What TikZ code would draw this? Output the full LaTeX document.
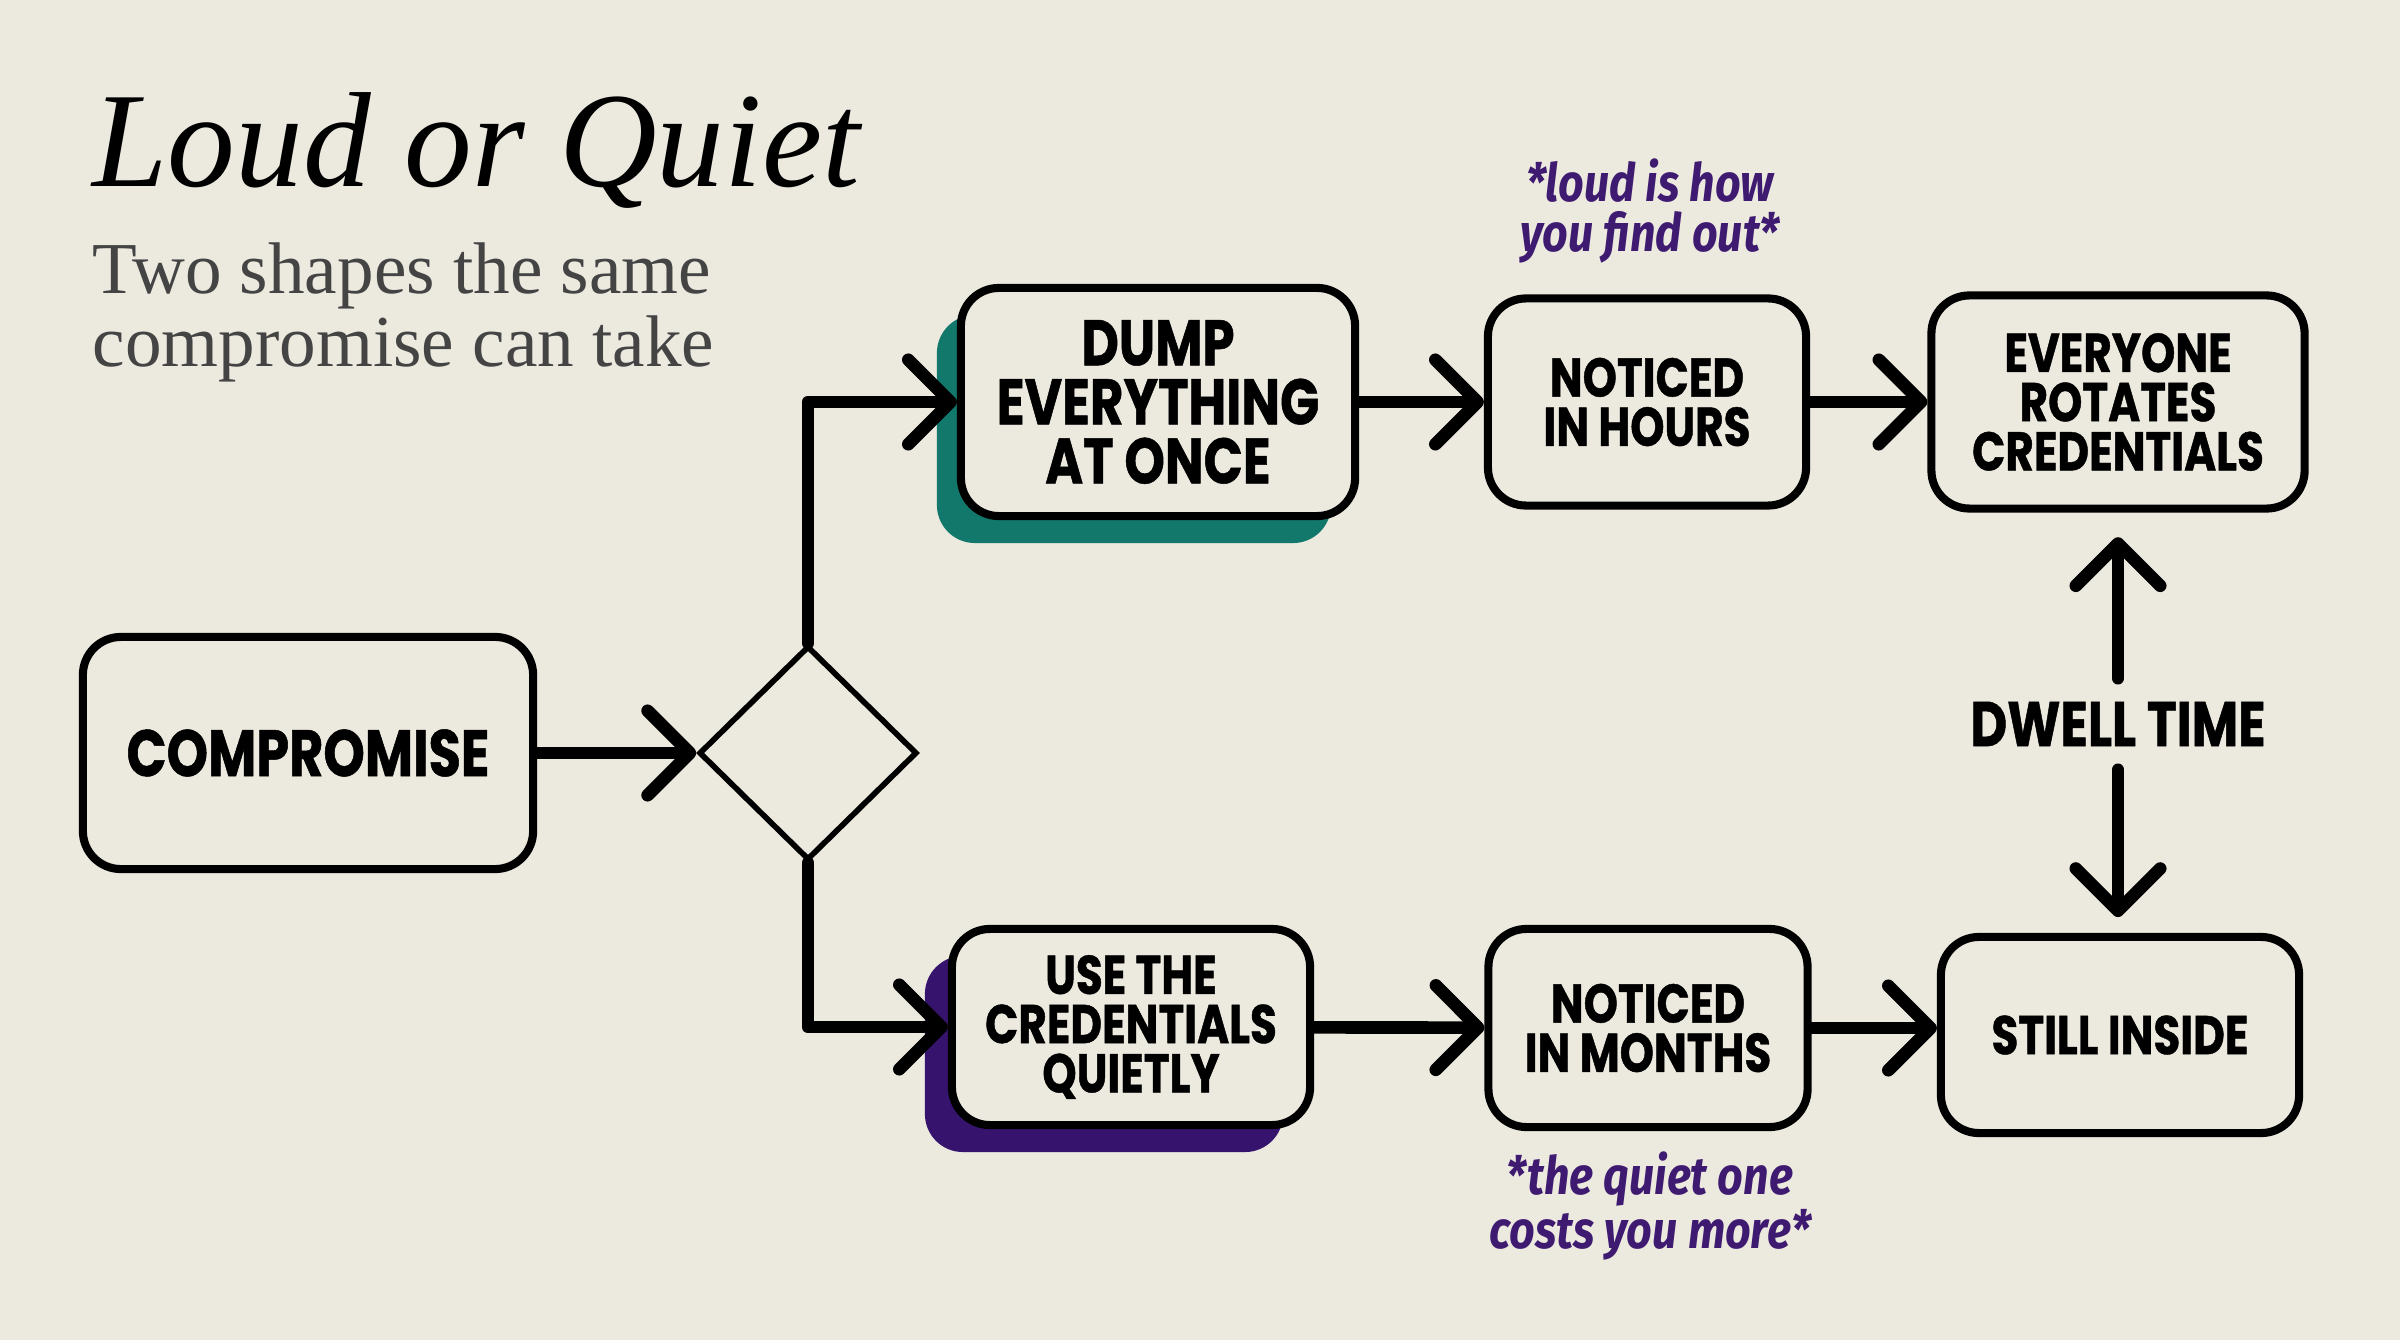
\documentclass[tikz,border=0pt]{standalone}
\usepackage{fontspec}
\usetikzlibrary{arrows.meta,shapes.geometric}
\newfontfamily\boxfont{Poppins}[FakeStretch=0.8,FakeBold=0.8]
\newfontfamily\notefont{Fira Sans}[FakeStretch=0.85]
\newfontfamily\titlefont{Liberation Serif}
\definecolor{bgcol}{HTML}{ECE9DF}
\definecolor{tealsh}{HTML}{13786C}
\definecolor{purplesh}{HTML}{36146E}
\definecolor{notecol}{HTML}{3E1A70}
\definecolor{subgray}{HTML}{444444}
\begin{document}
\begin{tikzpicture}[x=0.01cm,y=-0.01cm,
  box/.style={draw=black, line width=2.3pt, rounded corners=0.38cm, fill=bgcol,
    align=center, inner sep=0pt, font=\boxfont\bfseries\fontsize{15.5}{14}\selectfont},
  bigtext/.style={font=\boxfont\bfseries\fontsize{18.3}{16.8}\selectfont},
  shadowbox/.style={rounded corners=0.38cm, inner sep=0pt},
  arr/.style={line width=3.6pt, line cap=round, line join=round,
    -{Straight Barb[length=12pt,width=24pt,round]}},
  note/.style={text=notecol, align=center, inner sep=0pt,
    font=\notefont\bfseries\itshape\fontsize{15}{14}\selectfont},
  subtitle/.style={anchor=base west, inner sep=0pt, text=subgray,
    font=\titlefont\fontsize{20.8}{21}\selectfont},
]
\fill[bgcol] (0,0) rectangle (2400,1340);
\useasboundingbox (0,0) rectangle (2400,1340);

\node[anchor=base west, inner sep=0pt, font=\titlefont\itshape\fontsize{38.5}{40}\selectfont] (title) at (92,187) {Loud or Quiet};
\node[subtitle] (sub1) at (92,294) {Two shapes the same};
\node[subtitle] (sub2) at (92,367) {compromise can take};

% shadows
\node[shadowbox, fill=tealsh, minimum width=3.94cm, minimum height=2.28cm] (dumpsh) at (1134,429) {};
\node[shadowbox, fill=purplesh, minimum width=3.58cm, minimum height=1.96cm] (usesh) at (1104,1054) {};

\node[box, font=\boxfont\bfseries\fontsize{18.7}{17}\selectfont, minimum width=4.5cm, minimum height=2.32cm] (comp) at (308,753) {COMPROMISE};
\node[draw, diamond, line width=1.6pt, minimum width=2.18cm, minimum height=2.14cm, inner sep=0pt] (dia) at (808,753) {};

\node[box, bigtext, minimum width=3.94cm, minimum height=2.28cm] (dump) at (1158,402) {DUMP\\EVERYTHING\\AT ONCE};
\node[box, minimum width=3.18cm, minimum height=2.07cm] (hours) at (1647,402) {NOTICED\\IN HOURS};
\node[box, minimum width=3.73cm, minimum height=2.13cm] (rot) at (2118,402) {EVERYONE\\ROTATES\\CREDENTIALS};

\node[box, minimum width=3.58cm, minimum height=1.96cm] (use) at (1131,1027) {USE THE\\CREDENTIALS\\QUIETLY};
\node[box, minimum width=3.19cm, minimum height=1.98cm] (months) at (1648,1028) {NOTICED\\IN MONTHS};
\node[box, minimum width=3.58cm, minimum height=1.96cm] (still) at (2120,1035) {STILL INSIDE};

\node[inner sep=0pt, font=\boxfont\bfseries\fontsize{18}{18}\selectfont] (dwell) at (2118,724) {DWELL TIME};

\node[note] (n1) at (1650,211) {*loud is how\\you find out*};
\node[note] (n2) at (1650,1206) {*the quiet one\\costs you more*};

\draw[arr] (comp.east) -- (dia.west);
\draw[arr] (dia.north) |- (dump.west);
\draw[arr] (dia.south) |- (use.west);
\draw[arr] (dump) -- (hours);
\draw[arr] (hours) -- (rot);
\draw[arr] (use) -- (months);
\draw[arr] (months.east) -- (months.east -| still.west);
\draw[arr, shorten <=6.5pt, shorten >=7pt] (dwell.north) -- (dwell.north |- rot.south);
\draw[arr, shorten <=6.5pt, shorten >=4.5pt] (dwell.south) -- (dwell.south |- still.north);
\end{tikzpicture}
\end{document}
